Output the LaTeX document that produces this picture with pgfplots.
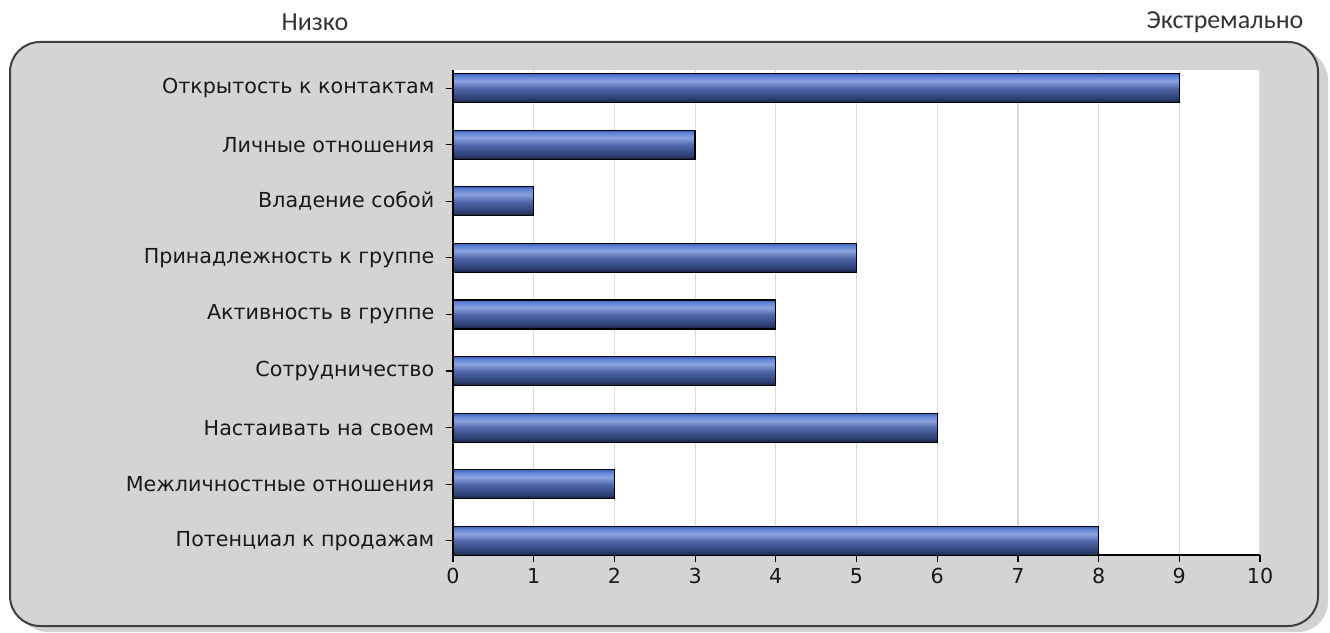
\documentclass[border=0pt]{standalone}
\usepackage{pgfplots}
\pgfplotsset{compat=1.18}
\usepackage{fontspec}
\setmainfont{DejaVu Sans}
\newfontfamily\calibri{Carlito}
\definecolor{bgc}{HTML}{D4D4D4}
\definecolor{brd}{HTML}{404040}
\definecolor{b1}{HTML}{18223F}
\definecolor{b2}{HTML}{2C3E72}
\definecolor{b3}{HTML}{5069AA}
\definecolor{b4}{HTML}{8BA4DE}
\definecolor{b5}{HTML}{6286D6}
\definecolor{b6}{HTML}{3D64C4}
\pgfdeclareverticalshading{barshade}{100bp}{color(0bp)=(b1); color(25bp)=(b1); color(32bp)=(b2); color(50bp)=(b3); color(62bp)=(b4); color(70bp)=(b5); color(75bp)=(b6); color(100bp)=(b6)}
\begin{document}
\begin{tikzpicture}[x=0.75pt,y=0.75pt]
\useasboundingbox (0,0) rectangle (1330,632);
% shadow
\fill[gray!55, rounded corners=22.5pt] (16,2) rectangle (1326,584);
\fill[gray!35, rounded corners=22.5pt] (18,0) rectangle (1328,582);
\filldraw[fill=bgc, draw=brd, line width=1.5pt, rounded corners=22.5pt] (10,6) rectangle (1318,590);
\node[font=\calibri\fontsize{19.5}{22}\selectfont, text=black!80] at (315,610) {Низко};
\node[font=\calibri\fontsize{19.5}{22}\selectfont, text=black!80] at (1225,610) {Экстремально};
\begin{axis}[
  at={(453pt*0.75,77pt*0.75)}, anchor=south west,
  scale only axis,
  width=605.25pt, height=363.75pt,
  xmin=0, xmax=10, ymin=-0.25, ymax=8.32,
  xtick={0,...,10},
  ytick={0,...,8},
  yticklabels={Потенциал к продажам, Межличностные отношения, Настаивать на своем, Сотрудничество, Активность в группе, Принадлежность к группе, Владение собой, Личные отношения, Открытость к контактам},
  axis x line*=bottom, axis y line*=left,
  axis line style={-, black, line width=1.2pt},
  tick align=outside,
  major tick length=5.5pt,
  tick style={black, line width=0.9pt},
  xmajorgrids, grid style={gray!30, line width=0.9pt},
  axis background/.style={fill=white},
  ticklabel style={font=\fontsize{15.5}{17}\selectfont, text=black!90},
  xticklabel style={yshift=-1pt},
  yticklabel style={xshift=-5pt},
  /pgf/number format/assume math mode=true,
  clip=false,
  mybar/.style={xbar, bar width=21.75pt, bar shift=0pt, draw=black, line width=1pt, shading=barshade, mark=none},
]
\addplot[mybar] coordinates {(8,0)};
\addplot[mybar] coordinates {(2,1)};
\addplot[mybar] coordinates {(6,2)};
\addplot[mybar] coordinates {(4,3)};
\addplot[mybar] coordinates {(4,4)};
\addplot[mybar] coordinates {(5,5)};
\addplot[mybar] coordinates {(1,6)};
\addplot[mybar] coordinates {(3,7)};
\addplot[mybar] coordinates {(9,8)};
\end{axis}
\end{tikzpicture}
\end{document}
